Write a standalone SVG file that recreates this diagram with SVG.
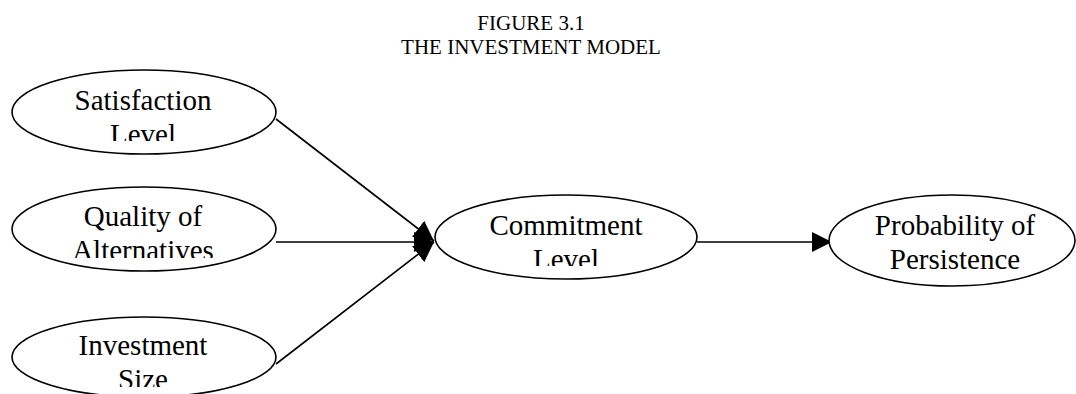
<svg xmlns="http://www.w3.org/2000/svg" width="1076" height="394" viewBox="0 0 1076 394">
<style>
.bg{fill:#ffffff}
.node{fill:#ffffff;stroke:#000000;stroke-width:1.6}
.lbl{font-family:"Liberation Serif","Times New Roman",serif;font-size:29px;fill:#000000;text-anchor:middle}
.title{font-family:"Liberation Serif","Times New Roman",serif;font-size:21px;fill:#000000;text-anchor:middle}
.edge{stroke:#000000;stroke-width:1.6;fill:none;marker-end:url(#arrow)}
</style>
<defs>
<marker id="arrow" markerUnits="userSpaceOnUse" markerWidth="20" markerHeight="20" refX="20" refY="10" orient="auto" viewBox="0 0 20 20">
<path d="M0,0 L20,10 L0,20 z" fill="#000000"/>
</marker>
<clipPath id="c-sat"><rect x="0" y="60" width="300" height="81"/></clipPath>
<clipPath id="c-qual"><rect x="0" y="180" width="300" height="78"/></clipPath>
<clipPath id="c-inv"><rect x="0" y="300" width="300" height="87"/></clipPath>
<clipPath id="c-com"><rect x="420" y="180" width="300" height="86"/></clipPath>
</defs>
<rect class="bg" x="0" y="0" width="1076" height="394"/>
<g id="title">
<text class="title" x="531" y="30">FIGURE 3.1</text>
<text class="title" x="531" y="54">THE INVESTMENT MODEL</text>
</g>
<g id="connectors">
<line class="edge" x1="276" y1="119" x2="434" y2="241"/>
<line class="edge" x1="276" y1="242" x2="434" y2="242"/>
<line class="edge" x1="276" y1="364" x2="434" y2="242"/>
<line class="edge" x1="697" y1="242" x2="832" y2="242"/>
</g>
<g id="satisfaction">
<ellipse class="node" cx="144" cy="112" rx="132" ry="42"/>
<g clip-path="url(#c-sat)">
<text class="lbl" x="143" y="110">Satisfaction</text>
<text class="lbl" x="143" y="144">Level</text>
</g>
</g>
<g id="quality">
<ellipse class="node" cx="144" cy="229" rx="132" ry="42"/>
<g clip-path="url(#c-qual)">
<text class="lbl" x="143" y="226">Quality of</text>
<text class="lbl" x="143" y="260">Alternatives</text>
</g>
</g>
<g id="investment">
<ellipse class="node" cx="144" cy="357" rx="132" ry="40"/>
<g clip-path="url(#c-inv)">
<text class="lbl" x="143" y="355">Investment</text>
<text class="lbl" x="143" y="389">Size</text>
</g>
</g>
<g id="commitment">
<ellipse class="node" cx="566" cy="237" rx="131" ry="42"/>
<g clip-path="url(#c-com)">
<text class="lbl" x="566" y="235">Commitment</text>
<text class="lbl" x="566" y="269">Level</text>
</g>
</g>
<g id="probability">
<ellipse class="node" cx="952" cy="240.5" rx="123" ry="45.5"/>
<text class="lbl" x="955" y="235">Probability of</text>
<text class="lbl" x="955" y="269">Persistence</text>
</g>
</svg>
